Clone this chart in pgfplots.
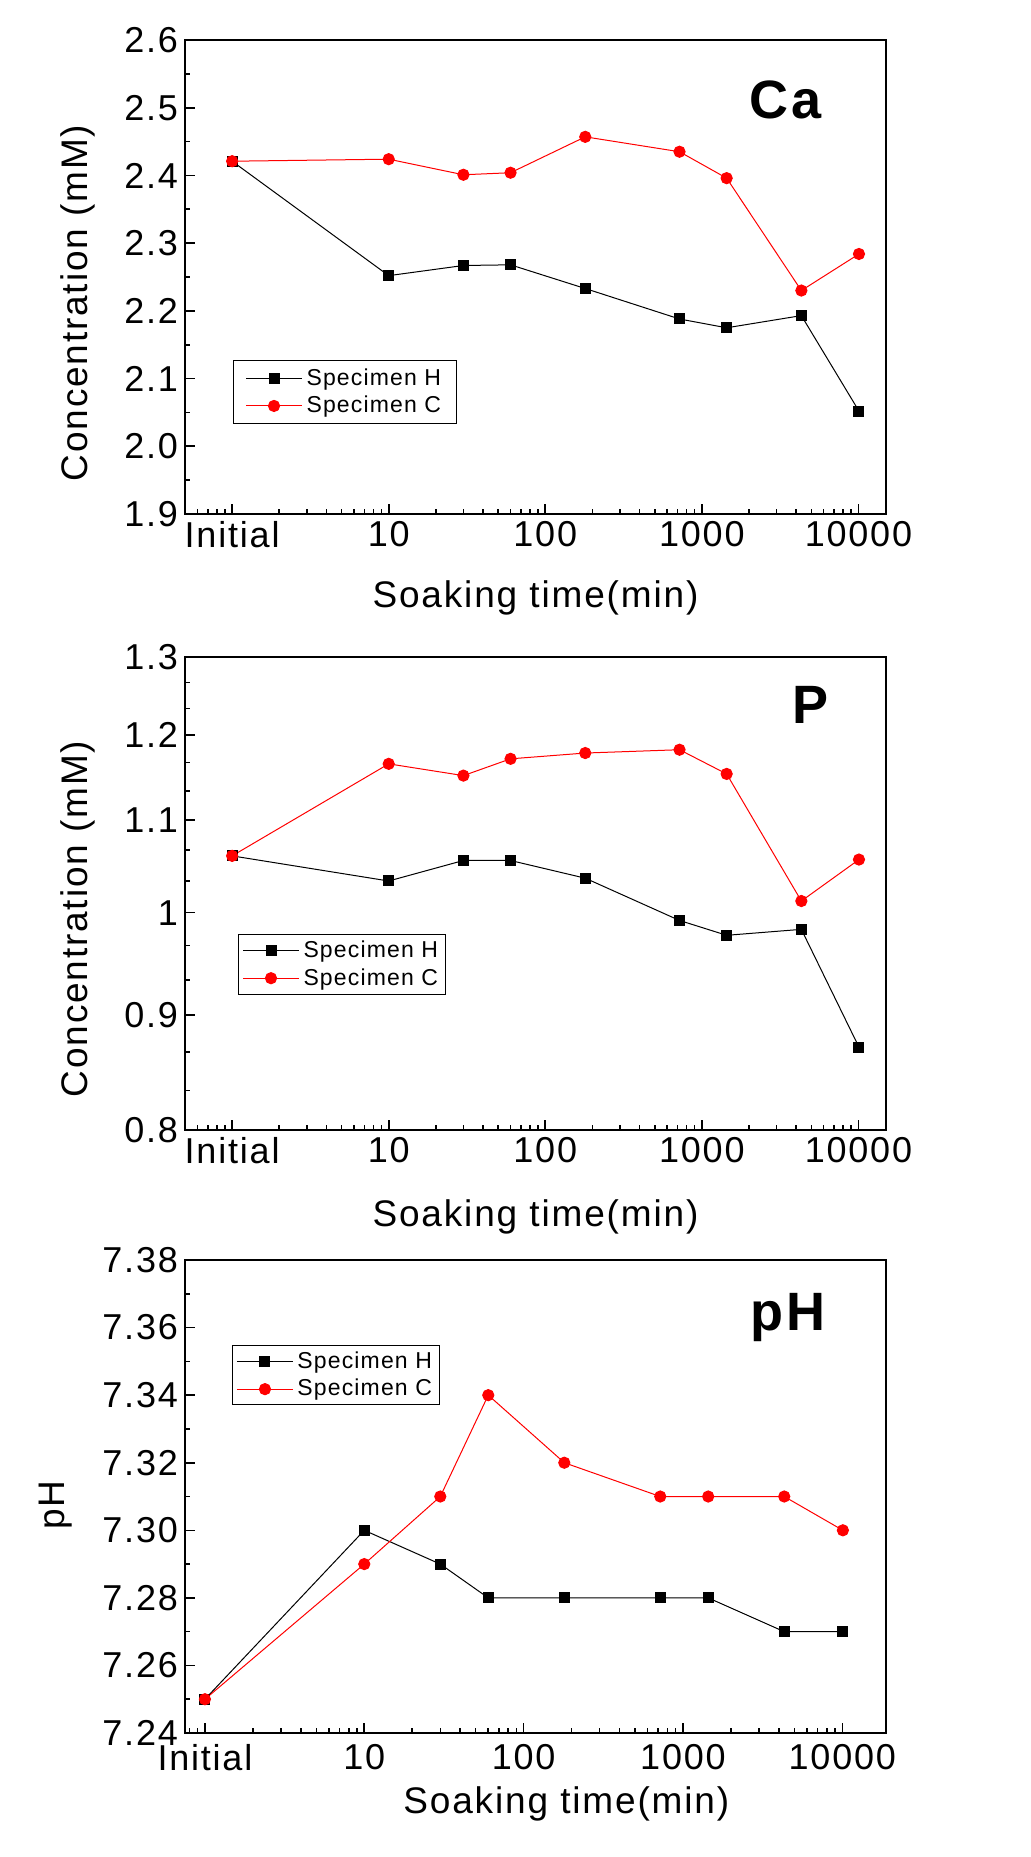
\documentclass[border=0pt]{standalone}
\usepackage{fontspec}
\setmainfont{Liberation Sans}[LetterSpace=5]
\usepackage{pgfplots}
\pgfplotsset{compat=1.18}

\pgfplotsset{
 panel/.style={
  scale only axis, width=350.5pt, height=237pt, anchor=south west,
  xmin=0.5, xmax=15000,
  xtick={1,10,100,1000,10000},
  xticklabels={Initial,10,100,1000,10000},
  minor xtick={0.6,0.7,0.8,0.9,2,3,4,5,6,7,8,9,20,30,40,50,60,70,80,90,200,300,400,500,600,700,800,900,2000,3000,4000,5000,6000,7000,8000,9000},
  tick align=inside, xtick pos=bottom, ytick pos=left,
  axis line style={line width=1pt},
  major tick length=5pt, minor tick length=2.5pt,
  tick style={black, line width=0.8pt},
  ticklabel style={font=\fontsize{18}{20}\selectfont},
  /pgf/number format/assume math mode=true,
  label style={font=\fontsize{18.5}{21}\selectfont},
  legend style={font=\fontsize{11.5}{13}\selectfont, draw=black, line width=0.5pt, anchor=north west, inner xsep=2pt, inner ysep=1pt, cells={anchor=west}},
  legend image code/.code={\draw[mark repeat=2, mark phase=2, ##1] plot coordinates {(0pt,0pt) (14pt,0pt) (28pt,0pt)};},
 },
 hser/.style={black, line width=0.5pt, mark=square*, mark size=2.5pt, mark options={fill=black, solid}},
 cser/.style={red, line width=0.5pt, mark=*, mark size=2.8pt, mark options={fill=red, solid}},
}
\tikzset{ttl/.style={font=\fontsize{27}{30}\selectfont\bfseries, anchor=base}}

\begin{document}
\begin{tikzpicture}
\path[use as bounding box] (0,0) rectangle (515pt,-928.5pt);

% ---------- Ca ----------
\begin{axis}[xmode=log, panel, at={(92.5pt,-257pt)},
  ymin=1.9, ymax=2.6,
  ytick={1.9,2.0,2.1,2.2,2.3,2.4,2.5,2.6},
  yticklabels={1.9,2.0,2.1,2.2,2.3,2.4,2.5,2.6},
  minor y tick num=1,
  ylabel={Concentration (mM)}, xlabel={Soaking time(min)},
  ylabel style={at={(axis description cs:-0.153,0.445)}, anchor=center},
  xlabel style={at={(axis description cs:0.5,-0.198)}, anchor=base},
  legend style={at={(axis description cs:0.0685,0.325)}, inner xsep=6pt, inner ysep=2pt}]
\addplot[hser] coordinates {(1,2.421) (10,2.252) (30,2.267) (60,2.268) (180,2.233) (720,2.188) (1440,2.175) (4320,2.193) (10080,2.052)};
\addlegendentry{Specimen H}
\addplot[cser] coordinates {(1,2.421) (10,2.424) (30,2.401) (60,2.404) (180,2.457) (720,2.435) (1440,2.396) (4320,2.230) (10080,2.284)};
\addlegendentry{Specimen C}
\node[ttl] at (axis description cs:0.857,0.835) {Ca};
\end{axis}

% ---------- P ----------
\begin{axis}[xmode=log, ymode=log, panel, at={(92.5pt,-565pt)}, height=236.5pt,
  ymin=0.8, ymax=1.3,
  ytick={0.8,0.9,1,1.1,1.2,1.3},
  yticklabels={0.8,0.9,1,1.1,1.2,1.3},
  minor ytick={0.8333,0.8667,0.9333,0.9667,1.0333,1.0667,1.1333,1.1667,1.2333,1.2667},
  ylabel={Concentration (mM)}, xlabel={Soaking time(min)},
  ylabel style={at={(axis description cs:-0.153,0.446)}, anchor=center},
  xlabel style={at={(axis description cs:0.5,-0.203)}, anchor=base},
  legend style={at={(axis description cs:0.0756,0.414)}}]
\addplot[hser] coordinates {(1,1.060) (10,1.033) (30,1.055) (60,1.055) (180,1.036) (720,0.992) (1440,0.977) (4320,0.983) (10080,0.871)};
\addlegendentry{Specimen H}
\addplot[cser] coordinates {(1,1.060) (10,1.165) (30,1.151) (60,1.171) (180,1.178) (720,1.182) (1440,1.153) (4320,1.012) (10080,1.056)};
\addlegendentry{Specimen C}
\node[ttl] at (axis description cs:0.893,0.860) {P};
\end{axis}

% ---------- pH ----------
\begin{axis}[xmode=log, panel, at={(92.5pt,-866.5pt)}, height=236.5pt,
  xmin=0.75, xmax=18800,
  minor xtick={0.8,0.9,2,3,4,5,6,7,8,9,20,30,40,50,60,70,80,90,200,300,400,500,600,700,800,900,2000,3000,4000,5000,6000,7000,8000,9000},
  xticklabel style={yshift=-2pt},
  ymin=7.24, ymax=7.38,
  ytick={7.24,7.26,7.28,7.30,7.32,7.34,7.36,7.38},
  yticklabels={7.24,7.26,7.28,7.30,7.32,7.34,7.36,7.38},
  minor y tick num=1,
  ylabel={pH}, xlabel={Soaking time(min)},
  ylabel style={at={(axis description cs:-0.185,0.482)}, anchor=center},
  xlabel style={at={(axis description cs:0.544,-0.171)}, anchor=base},
  legend style={at={(axis description cs:0.067,0.82)}}]
\addplot[hser] coordinates {(1,7.25) (10,7.30) (30,7.29) (60,7.28) (180,7.28) (720,7.28) (1440,7.28) (4320,7.27) (10080,7.27)};
\addlegendentry{Specimen H}
\addplot[cser] coordinates {(1,7.25) (10,7.29) (30,7.31) (60,7.34) (180,7.32) (720,7.31) (1440,7.31) (4320,7.31) (10080,7.30)};
\addlegendentry{Specimen C}
\node[ttl] at (axis description cs:0.860,0.852) {pH};
\end{axis}
\end{tikzpicture}
\end{document}
